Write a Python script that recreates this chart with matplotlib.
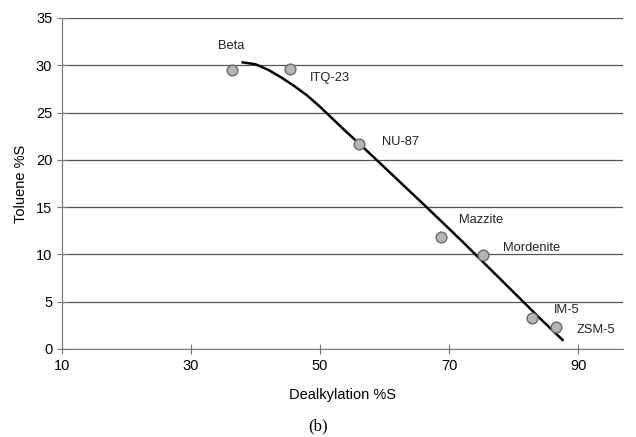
import matplotlib.pyplot as plt

plt.rcParams['font.family'] = ['Liberation Sans', 'DejaVu Sans']

# zeolite data points
names = ["Beta", "ITQ-23", "NU-87", "Mazzite", "Mordenite", "IM-5", "ZSM-5"]
dealk = [36.3, 45.4, 56.0, 68.8, 75.3, 82.9, 86.5]
toluene = [29.5, 29.6, 21.7, 11.8, 9.9, 3.3, 2.3]

# trend curve
curve_x = [38, 40, 42, 44, 46, 48, 50, 52, 54, 56.4, 58.9, 62, 66.5, 72, 76, 80, 84, 87.6]
curve_y = [30.3, 30.1, 29.5, 28.7, 27.8, 26.8, 25.6, 24.3, 23.0, 21.5, 19.9, 17.9, 15.0, 11.4, 8.7, 6.0, 3.3, 0.95]

# label offsets in data units (dx, dy)
label_off = [(0.0, 2.5), (3.0, -0.9), (3.6, 0.2), (2.7, 1.8), (3.0, 0.8), (3.4, 0.8), (3.2, -0.3)]

fig = plt.figure(figsize=(6.36, 4.37), dpi=100)
ax = fig.add_axes([0.0975, 0.2014, 0.8825, 0.7576])

ax.set_xlim(10, 97)
ax.set_ylim(0, 35)
ax.set_xticks([10, 30, 50, 70, 90])
ax.set_yticks(range(0, 36, 5))
ax.yaxis.grid(True, color='#555555', linewidth=0.9)
ax.set_axisbelow(True)

for s in ['top', 'right']:
    ax.spines[s].set_visible(False)
for s in ['left', 'bottom']:
    ax.spines[s].set_color('#777777')
ax.tick_params(direction='inout', length=7, color='#777777', labelsize=10.5)

ax.plot(curve_x, curve_y, color='black', linewidth=1.8, zorder=3)
ax.scatter(dealk, toluene, s=60, color='#b4b4b4', edgecolors='#6a6a6a', linewidths=1.0, zorder=4)

for n, x, y, (dx, dy) in zip(names, dealk, toluene, label_off):
    ax.text(x + dx, y + dy, n, fontsize=9.3, ha='left' if n != "Beta" else 'center', va='center', color='#222222')

ax.set_xlabel("Dealkylation %S", fontsize=10.5, labelpad=11)
ax.set_ylabel("Toluene %S", fontsize=10.5, labelpad=6)
fig.text(0.5, 0.015, "(b)", ha='center', fontsize=12, family='Liberation Serif')

fig.savefig("out.png", dpi=100)
